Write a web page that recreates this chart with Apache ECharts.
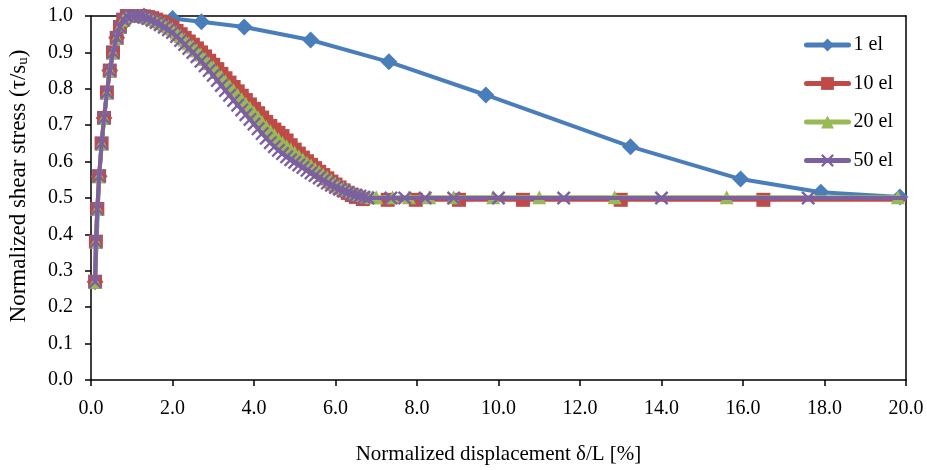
<!DOCTYPE html>
<html><head><meta charset="utf-8">
<script src="https://cdn.jsdelivr.net/npm/echarts@6/dist/echarts.min.js"></script>
<style>html,body{margin:0;padding:0;background:#fff}#c{width:927px;height:470px}</style>
</head><body><div id="c"></div>
<script>
// ---- data ----
const seriesNames = ['1 el', '10 el', '20 el', '50 el'];

const el1X = [0.10, 0.20, 0.32, 0.46, 0.63, 0.88, 1.30, 2.00, 2.71, 3.76, 5.39, 7.31, 9.69, 13.24, 15.94, 17.91, 19.85];
const el1Y = [0.27, 0.56, 0.72, 0.85, 0.94, 0.99, 1.00, 0.993, 0.984, 0.970, 0.934, 0.874, 0.783, 0.641, 0.552, 0.516, 0.503];

const riseX = [0.10, 0.12, 0.155, 0.20, 0.26, 0.32, 0.39, 0.46, 0.54, 0.63, 0.71, 0.79, 0.88];
const riseY = [0.27, 0.38, 0.47, 0.56, 0.65, 0.72, 0.79, 0.85, 0.90, 0.94, 0.97, 0.99, 1.00];

const el10X = [1.0,1.1,1.2,1.3,1.4,1.5,1.6,1.7,1.8,1.9,2.0,2.1,2.2,2.3,2.4,2.5,2.6,2.7,2.8,2.9,3.0,3.1,3.2,3.3,3.4,3.5,3.6,3.7,3.8,3.9,4.0,4.1,4.2,4.3,4.4,4.5,4.6,4.7,4.8,4.9,5.0,5.1,5.2,5.3,5.4,5.5,5.6,5.7,5.8,5.9,6.0,6.1,6.2,6.3,6.4,6.5,6.67,7.28,7.97,9.03,10.6,13.0,16.5,20.0];
const el10Y = [1.000,1.000,1.000,0.999,0.997,0.994,0.990,0.985,0.980,0.974,0.968,0.959,0.950,0.940,0.930,0.921,0.911,0.900,0.889,0.877,0.866,0.854,0.841,0.829,0.817,0.805,0.793,0.781,0.769,0.757,0.745,0.733,0.721,0.709,0.698,0.688,0.679,0.670,0.658,0.645,0.633,0.622,0.611,0.601,0.591,0.582,0.572,0.563,0.554,0.545,0.537,0.529,0.521,0.514,0.508,0.503,0.497,0.495,0.495,0.495,0.495,0.495,0.495,0.495];

const el20X = [1.0,1.1,1.2,1.3,1.4,1.5,1.6,1.7,1.8,1.9,2.0,2.1,2.2,2.3,2.4,2.5,2.6,2.7,2.8,2.9,3.0,3.1,3.2,3.3,3.4,3.5,3.6,3.7,3.8,3.9,4.0,4.1,4.2,4.3,4.4,4.5,4.6,4.7,4.8,4.9,5.0,5.1,5.2,5.3,5.4,5.5,5.6,5.7,5.8,5.9,6.0,6.1,6.2,6.3,6.4,6.5,6.6,6.7,6.8,6.9,7.0,7.4,7.8,8.3,8.9,9.87,11.0,12.85,15.6,19.8];
const el20Y = [1.000,1.000,1.000,0.998,0.995,0.992,0.987,0.982,0.977,0.971,0.965,0.955,0.945,0.935,0.925,0.916,0.905,0.894,0.882,0.870,0.859,0.846,0.833,0.820,0.808,0.796,0.783,0.771,0.759,0.747,0.735,0.722,0.709,0.696,0.684,0.673,0.662,0.652,0.643,0.634,0.624,0.615,0.606,0.597,0.589,0.580,0.572,0.564,0.556,0.548,0.540,0.533,0.527,0.521,0.516,0.512,0.508,0.505,0.503,0.502,0.502,0.502,0.502,0.502,0.502,0.502,0.502,0.502,0.502,0.502];

const el50X = [1.0,1.1,1.2,1.3,1.4,1.5,1.6,1.7,1.8,1.9,2.0,2.1,2.2,2.3,2.4,2.5,2.6,2.7,2.8,2.9,3.0,3.1,3.2,3.3,3.4,3.5,3.6,3.7,3.8,3.9,4.0,4.1,4.2,4.3,4.4,4.5,4.6,4.7,4.8,4.9,5.0,5.1,5.2,5.3,5.4,5.5,5.6,5.7,5.8,5.9,6.0,6.1,6.2,6.3,6.4,6.5,6.6,6.7,6.8,7.36,7.7,8.2,8.9,10.0,11.6,14.0,17.6,20.0];
const el50Y = [1.000,1.000,0.999,0.997,0.993,0.988,0.982,0.976,0.969,0.962,0.955,0.944,0.933,0.922,0.911,0.900,0.888,0.876,0.863,0.850,0.837,0.823,0.809,0.795,0.782,0.768,0.755,0.742,0.729,0.716,0.703,0.690,0.677,0.664,0.652,0.641,0.631,0.622,0.613,0.605,0.598,0.591,0.584,0.576,0.569,0.562,0.555,0.548,0.541,0.535,0.529,0.524,0.519,0.515,0.511,0.508,0.505,0.502,0.500,0.500,0.500,0.500,0.500,0.500,0.500,0.500,0.500,0.500];

const xTicks = ['0.0','2.0','4.0','6.0','8.0','10.0','12.0','14.0','16.0','18.0','20.0'];
const yTicks = ['0.0','0.1','0.2','0.3','0.4','0.5','0.6','0.7','0.8','0.9','1.0'];

// ---- chart ----
const FONT = '"Liberation Serif", "Times New Roman", serif';
const colors = ['#4A7EBB', '#BE4B48', '#98B954', '#7D60A0'];
const crossPath = 'path://M0,1.2L1.2,0L5,3.8L8.8,0L10,1.2L6.2,5L10,8.8L8.8,10L5,6.2L1.2,10L0,8.8L3.8,5Z';

function pairs(xs, ys, withRise) {
  const out = [];
  if (withRise) riseX.forEach((x, i) => out.push([x, riseY[i]]));
  xs.forEach((x, i) => out.push([x, ys[i]]));
  return out;
}
function hideLast(arr) {
  const last = arr[arr.length - 1];
  arr[arr.length - 1] = { value: last, symbol: 'none' };
  return arr;
}

const chart = echarts.init(document.getElementById('c'), null, { renderer: 'canvas' });
const axisLineStyle = { color: '#000', width: 1.5 };
chart.setOption({
  animation: false,
  backgroundColor: '#fff',
  color: colors,
  grid: { left: 91, right: 21, top: 16, bottom: 90, containLabel: false, outerBoundsMode: 'none' },
  legend: {
    orient: 'vertical', left: 799, top: 30,
    itemWidth: 42, itemHeight: 16, itemGap: 18.5,
    lineStyle: { width: 5, cap: 'round' },
    textStyle: { fontFamily: FONT, fontSize: 20, color: '#000' },
    data: seriesNames
  },
  xAxis: [{
    type: 'value', min: 0, max: 20, interval: 2,
    name: 'Normalized displacement δ/L [%]', nameLocation: 'middle', nameGap: 64,
    nameTextStyle: { fontFamily: FONT, fontSize: 21, color: '#000' },
    axisLine: { onZero: false, lineStyle: axisLineStyle },
    axisTick: { inside: false, length: 6, lineStyle: { color: '#000', width: 1.5 } },
    axisLabel: { fontFamily: FONT, fontSize: 20, color: '#000', margin: 19, formatter: (v) => xTicks[Math.round(v / 2)] },
    splitLine: { show: false }
  }, {
    type: 'value', min: 0, max: 20, position: 'top',
    axisLine: { onZero: false, lineStyle: axisLineStyle },
    axisTick: { show: false }, axisLabel: { show: false }, splitLine: { show: false }
  }],
  yAxis: [{
    type: 'value', min: 0, max: 1, interval: 0.1,
    name: 'Normalized shear stress (τ/s{sub|u})', nameLocation: 'middle', nameGap: 60,
    nameTextStyle: { fontFamily: FONT, fontSize: 23, color: '#000', padding: [0, 0, 0, 24],
      rich: { sub: { fontFamily: FONT, fontSize: 15, color: '#000', verticalAlign: 'bottom', padding: [10, 0, 0, 0] } } },
    axisLine: { onZero: false, lineStyle: axisLineStyle },
    axisTick: { inside: false, length: 6, lineStyle: { color: '#000', width: 1.5 } },
    axisLabel: { fontFamily: FONT, fontSize: 20, color: '#000', margin: 18, formatter: (v) => yTicks[Math.round(v * 10)] },
    splitLine: { show: false }
  }, {
    type: 'value', min: 0, max: 1, position: 'right',
    axisLine: { onZero: false, lineStyle: axisLineStyle },
    axisTick: { show: false }, axisLabel: { show: false }, splitLine: { show: false }
  }],
  series: [
    { name: '1 el', type: 'line', data: pairs(el1X, el1Y, false), symbol: 'diamond', symbolSize: 17,
      lineStyle: { width: 4 }, itemStyle: { color: colors[0] }, z: 2 },
    { name: '10 el', type: 'line', data: hideLast(pairs(el10X, el10Y, true)), symbol: 'rect', symbolSize: 14,
      lineStyle: { width: 4 }, itemStyle: { color: colors[1] }, z: 3 },
    { name: '20 el', type: 'line', data: pairs(el20X, el20Y, true), symbol: 'triangle', symbolSize: 14,
      lineStyle: { width: 4 }, itemStyle: { color: colors[2] }, z: 4 },
    { name: '50 el', type: 'line', data: hideLast(pairs(el50X, el50Y, true)), symbol: crossPath, symbolSize: 14,
      lineStyle: { width: 4 }, itemStyle: { color: colors[3] }, z: 5 }
  ]
});
</script></body></html>
